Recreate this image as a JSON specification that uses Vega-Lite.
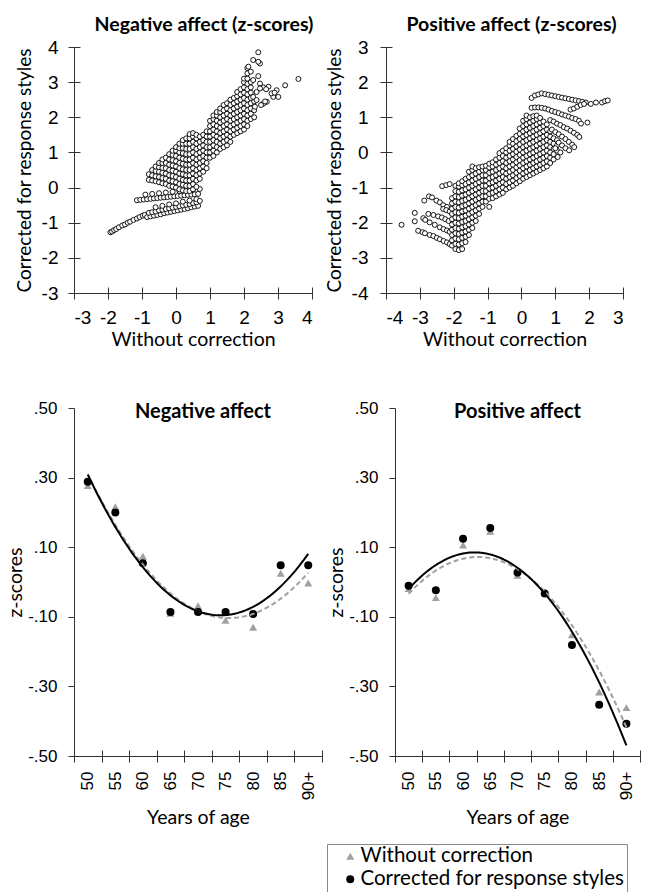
{
"$schema": "https://vega.github.io/schema/vega-lite/v6.json",
"background": "white",
"padding": {"left": 5, "top": 14, "right": 0, "bottom": 0},
"spacing": 50,
"config": {
  "view": {"stroke": null},
  "font": "Lato",
  "axis": {"grid": false, "labelFont": "Liberation Sans", "labelColor": "#000", "titleFont": "Lato", "titleFontWeight": "normal", "titleColor": "#000", "domainColor": "#333", "tickColor": "#333", "domainWidth": 1, "tickWidth": 1},
  "title": {"font": "Lato", "fontWeight": "bold", "color": "#000"}
},
"datasets": {
"na": [
{"x":-1.93,"y":-1.27},{"x":-1.88,"y":-1.25},{"x":-1.82,"y":-1.21},{"x":-1.76,"y":-1.18},{"x":-1.68,"y":-1.13},{"x":-1.58,"y":-1.08},{"x":-1.5,"y":-1.05},{"x":-1.42,"y":-1.0},{"x":-1.35,"y":-0.97},{"x":-1.25,"y":-0.92},{"x":-1.15,"y":-0.88},{"x":-1.07,"y":-0.84},{"x":-0.98,"y":-0.8},{"x":-0.92,"y":-0.78},
{"x":-0.85,"y":-0.84},{"x":-0.75,"y":-0.82},{"x":-0.65,"y":-0.8},{"x":-0.55,"y":-0.78},{"x":-0.45,"y":-0.76},{"x":-0.35,"y":-0.73},{"x":-0.25,"y":-0.71},{"x":-0.15,"y":-0.69},{"x":-0.05,"y":-0.67},{"x":0.05,"y":-0.65},{"x":0.15,"y":-0.63},{"x":0.25,"y":-0.61},{"x":0.35,"y":-0.59},{"x":0.45,"y":-0.56},{"x":0.55,"y":-0.54},{"x":0.65,"y":-0.52},
{"x":-0.8,"y":-0.72},{"x":-0.7,"y":-0.7},{"x":-0.6,"y":-0.68},{"x":-0.5,"y":-0.65},{"x":-0.4,"y":-0.63},{"x":-0.3,"y":-0.61},{"x":-0.2,"y":-0.59},{"x":-0.1,"y":-0.57},{"x":0,"y":-0.55},{"x":0.1,"y":-0.53},{"x":0.2,"y":-0.51},{"x":0.3,"y":-0.49},{"x":0.4,"y":-0.47},{"x":0.5,"y":-0.44},{"x":0.6,"y":-0.42},
{"x":-0.6,"y":-0.56},{"x":-0.4,"y":-0.52},{"x":-0.2,"y":-0.48},{"x":0,"y":-0.45},{"x":0.2,"y":-0.4},{"x":0.4,"y":-0.37},{"x":0.6,"y":-0.33},{"x":0.7,"y":-0.38},
{"x":-1.15,"y":-0.36},{"x":-1.05,"y":-0.35},{"x":-0.95,"y":-0.34},{"x":-0.85,"y":-0.33},{"x":-0.75,"y":-0.32},{"x":-0.65,"y":-0.31},{"x":-0.55,"y":-0.3},{"x":-0.45,"y":-0.29},{"x":-0.35,"y":-0.28},{"x":-0.25,"y":-0.27},{"x":-0.15,"y":-0.26},{"x":-0.05,"y":-0.25},{"x":0.05,"y":-0.24},{"x":0.15,"y":-0.23},{"x":0.25,"y":-0.22},{"x":0.35,"y":-0.21},{"x":0.45,"y":-0.2},{"x":0.55,"y":-0.19},{"x":0.65,"y":-0.18},
{"x":-0.9,"y":-0.2},{"x":-0.7,"y":-0.18},{"x":-0.5,"y":-0.16},{"x":-0.3,"y":-0.14},{"x":-0.1,"y":-0.12},{"x":0.1,"y":-0.1},{"x":0.3,"y":-0.08},{"x":0.5,"y":-0.06},{"x":0.7,"y":-0.04},
{"x":-0.8,"y":0.22},{"x":-0.8,"y":0.38},
{"x":-0.7,"y":0.2},{"x":-0.7,"y":0.35},{"x":-0.7,"y":0.5},
{"x":-0.6,"y":0.18},{"x":-0.6,"y":0.32},{"x":-0.6,"y":0.47},{"x":-0.6,"y":0.6},
{"x":-0.5,"y":0.15},{"x":-0.5,"y":0.3},{"x":-0.5,"y":0.45},{"x":-0.5,"y":0.58},{"x":-0.5,"y":0.7},
{"x":-0.4,"y":0.12},{"x":-0.4,"y":0.27},{"x":-0.4,"y":0.42},{"x":-0.4,"y":0.56},{"x":-0.4,"y":0.7},{"x":-0.4,"y":0.8},
{"x":-0.3,"y":0.1},{"x":-0.3,"y":0.25},{"x":-0.3,"y":0.4},{"x":-0.3,"y":0.55},{"x":-0.3,"y":0.7},{"x":-0.3,"y":0.85},
{"x":-0.2,"y":0.05},{"x":-0.2,"y":0.2},{"x":-0.2,"y":0.35},{"x":-0.2,"y":0.5},{"x":-0.2,"y":0.65},{"x":-0.2,"y":0.8},{"x":-0.2,"y":0.95},
{"x":-0.1,"y":0.03},{"x":-0.1,"y":0.18},{"x":-0.1,"y":0.33},{"x":-0.1,"y":0.48},{"x":-0.1,"y":0.63},{"x":-0.1,"y":0.78},{"x":-0.1,"y":0.93},{"x":-0.1,"y":1.05},
{"x":0,"y":0.0},{"x":0,"y":0.15},{"x":0,"y":0.3},{"x":0,"y":0.45},{"x":0,"y":0.6},{"x":0,"y":0.75},{"x":0,"y":0.9},{"x":0,"y":1.05},{"x":0,"y":1.15},
{"x":0.1,"y":-0.05},{"x":0.1,"y":0.1},{"x":0.1,"y":0.25},{"x":0.1,"y":0.4},{"x":0.1,"y":0.55},{"x":0.1,"y":0.7},{"x":0.1,"y":0.85},{"x":0.1,"y":1.0},{"x":0.1,"y":1.12},{"x":0.1,"y":1.25},
{"x":0.2,"y":-0.08},{"x":0.2,"y":0.08},{"x":0.2,"y":0.22},{"x":0.2,"y":0.38},{"x":0.2,"y":0.52},{"x":0.2,"y":0.68},{"x":0.2,"y":0.82},{"x":0.2,"y":0.98},{"x":0.2,"y":1.12},{"x":0.2,"y":1.25},{"x":0.2,"y":1.35},
{"x":0.3,"y":-0.1},{"x":0.3,"y":0.05},{"x":0.3,"y":0.2},{"x":0.3,"y":0.35},{"x":0.3,"y":0.5},{"x":0.3,"y":0.65},{"x":0.3,"y":0.8},{"x":0.3,"y":0.95},{"x":0.3,"y":1.1},{"x":0.3,"y":1.25},{"x":0.3,"y":1.4},
{"x":0.4,"y":-0.1},{"x":0.4,"y":0.05},{"x":0.4,"y":0.2},{"x":0.4,"y":0.35},{"x":0.4,"y":0.5},{"x":0.4,"y":0.65},{"x":0.4,"y":0.8},{"x":0.4,"y":0.95},{"x":0.4,"y":1.1},{"x":0.4,"y":1.25},{"x":0.4,"y":1.4},{"x":0.4,"y":1.52},
{"x":0.5,"y":-0.05},{"x":0.5,"y":0.1},{"x":0.5,"y":0.25},{"x":0.5,"y":0.4},{"x":0.5,"y":0.55},{"x":0.5,"y":0.7},{"x":0.5,"y":0.85},{"x":0.5,"y":1.0},{"x":0.5,"y":1.15},{"x":0.5,"y":1.3},{"x":0.5,"y":1.45},{"x":0.5,"y":1.55},
{"x":0.6,"y":0.02},{"x":0.6,"y":0.2},{"x":0.6,"y":0.35},{"x":0.6,"y":0.5},{"x":0.6,"y":0.65},{"x":0.6,"y":0.8},{"x":0.6,"y":0.95},{"x":0.6,"y":1.1},{"x":0.6,"y":1.25},{"x":0.6,"y":1.4},{"x":0.6,"y":1.5},
{"x":0.7,"y":0.25},{"x":0.7,"y":0.4},{"x":0.7,"y":0.55},{"x":0.7,"y":0.7},{"x":0.7,"y":0.85},{"x":0.7,"y":1.0},{"x":0.7,"y":1.15},{"x":0.7,"y":1.3},{"x":0.7,"y":1.45},
{"x":0.8,"y":0.45},{"x":0.8,"y":0.6},{"x":0.8,"y":0.75},{"x":0.8,"y":0.9},{"x":0.8,"y":1.05},{"x":0.8,"y":1.2},{"x":0.8,"y":1.35},{"x":0.8,"y":1.5},
{"x":0.9,"y":0.55},{"x":0.9,"y":0.7},{"x":0.9,"y":0.85},{"x":0.9,"y":1.0},{"x":0.9,"y":1.15},{"x":0.9,"y":1.3},{"x":0.9,"y":1.45},{"x":0.9,"y":1.6},
{"x":1.0,"y":0.85},{"x":1.0,"y":1.0},{"x":1.0,"y":1.15},{"x":1.0,"y":1.3},{"x":1.0,"y":1.45},{"x":1.0,"y":1.6},{"x":1.0,"y":1.75},{"x":1.0,"y":1.9},
{"x":1.1,"y":0.9},{"x":1.1,"y":1.05},{"x":1.1,"y":1.2},{"x":1.1,"y":1.35},{"x":1.1,"y":1.5},{"x":1.1,"y":1.65},{"x":1.1,"y":1.8},{"x":1.1,"y":1.95},{"x":1.1,"y":2.05},
{"x":1.2,"y":1.0},{"x":1.2,"y":1.15},{"x":1.2,"y":1.3},{"x":1.2,"y":1.45},{"x":1.2,"y":1.6},{"x":1.2,"y":1.75},{"x":1.2,"y":1.9},{"x":1.2,"y":2.05},{"x":1.2,"y":2.15},
{"x":1.3,"y":1.1},{"x":1.3,"y":1.25},{"x":1.3,"y":1.4},{"x":1.3,"y":1.55},{"x":1.3,"y":1.7},{"x":1.3,"y":1.85},{"x":1.3,"y":2.0},{"x":1.3,"y":2.15},{"x":1.3,"y":2.25},
{"x":1.4,"y":1.15},{"x":1.4,"y":1.3},{"x":1.4,"y":1.45},{"x":1.4,"y":1.6},{"x":1.4,"y":1.75},{"x":1.4,"y":1.9},{"x":1.4,"y":2.05},{"x":1.4,"y":2.2},{"x":1.4,"y":2.35},
{"x":1.5,"y":1.2},{"x":1.5,"y":1.35},{"x":1.5,"y":1.5},{"x":1.5,"y":1.65},{"x":1.5,"y":1.8},{"x":1.5,"y":1.95},{"x":1.5,"y":2.1},{"x":1.5,"y":2.25},{"x":1.5,"y":2.4},
{"x":1.6,"y":1.3},{"x":1.6,"y":1.45},{"x":1.6,"y":1.6},{"x":1.6,"y":1.75},{"x":1.6,"y":1.9},{"x":1.6,"y":2.05},{"x":1.6,"y":2.2},{"x":1.6,"y":2.35},{"x":1.6,"y":2.5},
{"x":1.7,"y":1.5},{"x":1.7,"y":1.65},{"x":1.7,"y":1.8},{"x":1.7,"y":1.95},{"x":1.7,"y":2.1},{"x":1.7,"y":2.25},{"x":1.7,"y":2.4},{"x":1.7,"y":2.55},
{"x":1.8,"y":1.55},{"x":1.8,"y":1.7},{"x":1.8,"y":1.85},{"x":1.8,"y":2.0},{"x":1.8,"y":2.15},{"x":1.8,"y":2.3},{"x":1.8,"y":2.45},{"x":1.8,"y":2.6},{"x":1.8,"y":2.72},
{"x":1.9,"y":1.6},{"x":1.9,"y":1.75},{"x":1.9,"y":1.9},{"x":1.9,"y":2.05},{"x":1.9,"y":2.2},{"x":1.9,"y":2.35},{"x":1.9,"y":2.5},{"x":1.9,"y":2.65},{"x":1.9,"y":2.8},
{"x":2.0,"y":1.65},{"x":2.0,"y":1.8},{"x":2.0,"y":1.95},{"x":2.0,"y":2.1},{"x":2.0,"y":2.25},{"x":2.0,"y":2.4},{"x":2.0,"y":2.55},{"x":2.0,"y":2.7},{"x":2.0,"y":2.85},{"x":2.0,"y":3.0},{"x":2.0,"y":3.1},
{"x":2.1,"y":1.75},{"x":2.1,"y":1.9},{"x":2.1,"y":2.05},{"x":2.1,"y":2.2},{"x":2.1,"y":2.35},{"x":2.1,"y":2.5},{"x":2.1,"y":2.65},{"x":2.1,"y":2.8},{"x":2.1,"y":2.95},{"x":2.1,"y":3.1},{"x":2.1,"y":3.25},{"x":2.1,"y":3.4},
{"x":2.2,"y":1.95},{"x":2.2,"y":2.1},{"x":2.2,"y":2.25},{"x":2.2,"y":2.4},{"x":2.2,"y":2.55},{"x":2.2,"y":2.7},{"x":2.2,"y":2.85},{"x":2.2,"y":3.0},{"x":2.2,"y":3.3},
{"x":2.3,"y":2.0},{"x":2.3,"y":2.2},{"x":2.3,"y":2.45},
{"x":2.32,"y":2.3},{"x":2.57,"y":2.39},{"x":2.67,"y":2.44},{"x":2.27,"y":2.58},{"x":2.37,"y":2.72},{"x":2.57,"y":2.85},{"x":2.72,"y":2.87},{"x":2.47,"y":2.96},{"x":2.86,"y":2.58},{"x":2.81,"y":2.68},{"x":2.96,"y":2.77},{"x":3.01,"y":2.58},{"x":3.21,"y":2.91},{"x":3.6,"y":3.09},{"x":2.42,"y":3.17},{"x":2.27,"y":3.06},{"x":2.47,"y":2.82},{"x":2.37,"y":2.49},{"x":2.62,"y":2.45},{"x":2.42,"y":3.85},{"x":2.27,"y":3.63},{"x":2.47,"y":3.53},{"x":2.42,"y":3.58},{"x":2.13,"y":3.44},{"x":2.5,"y":2.35},{"x":2.9,"y":2.7},{"x":2.65,"y":2.8}
],
"pa": [
{"x":-3.54,"y":-2.06},
{"x":-2.87,"y":-1.37},{"x":-2.73,"y":-1.25},{"x":-2.64,"y":-1.28},{"x":-2.51,"y":-1.37},{"x":-2.41,"y":-1.42},{"x":-2.31,"y":-1.5},{"x":-2.2,"y":-1.55},
{"x":-2.34,"y":-0.96},{"x":-2.22,"y":-0.93},{"x":-2.12,"y":-0.9},
{"x":-3.15,"y":-1.72},{"x":-2.75,"y":-1.75},{"x":-2.6,"y":-1.78},{"x":-2.46,"y":-1.82},{"x":-2.35,"y":-1.85},{"x":-2.25,"y":-1.9},{"x":-2.15,"y":-1.95},
{"x":-2.31,"y":-1.61},{"x":-2.22,"y":-1.64},{"x":-2.12,"y":-1.68},
{"x":-3.15,"y":-1.96},{"x":-2.9,"y":-1.87},{"x":-2.84,"y":-1.92},{"x":-2.71,"y":-1.99},{"x":-2.56,"y":-2.06},{"x":-2.41,"y":-2.13},{"x":-2.3,"y":-2.18},{"x":-2.2,"y":-2.22},{"x":-2.12,"y":-2.26},
{"x":-3.05,"y":-2.23},{"x":-2.92,"y":-2.27},{"x":-2.85,"y":-2.3},{"x":-2.71,"y":-2.35},{"x":-2.6,"y":-2.38},{"x":-2.5,"y":-2.43},{"x":-2.41,"y":-2.47},{"x":-2.3,"y":-2.52},{"x":-2.2,"y":-2.56},{"x":-2.12,"y":-2.61},
{"x":-2.05,"y":-2.65},{"x":-2.05,"y":-2.5},{"x":-2.05,"y":-2.35},{"x":-2.05,"y":-2.2},{"x":-2.05,"y":-2.05},{"x":-2.05,"y":-1.9},{"x":-2.05,"y":-1.75},{"x":-2.05,"y":-1.6},{"x":-2.05,"y":-1.45},{"x":-2.05,"y":-1.3},
{"x":-1.95,"y":-2.75},{"x":-1.95,"y":-2.6},{"x":-1.95,"y":-2.45},{"x":-1.95,"y":-2.3},{"x":-1.95,"y":-2.15},{"x":-1.95,"y":-2.0},{"x":-1.95,"y":-1.85},{"x":-1.95,"y":-1.7},{"x":-1.95,"y":-1.55},{"x":-1.95,"y":-1.4},{"x":-1.95,"y":-1.25},{"x":-1.95,"y":-1.1},{"x":-1.95,"y":-0.95},
{"x":-1.85,"y":-2.78},{"x":-1.85,"y":-2.62},{"x":-1.85,"y":-2.47},{"x":-1.85,"y":-2.32},{"x":-1.85,"y":-2.17},{"x":-1.85,"y":-2.02},{"x":-1.85,"y":-1.87},{"x":-1.85,"y":-1.72},{"x":-1.85,"y":-1.57},{"x":-1.85,"y":-1.42},{"x":-1.85,"y":-1.27},{"x":-1.85,"y":-1.12},{"x":-1.85,"y":-0.97},{"x":-1.85,"y":-0.88},
{"x":-1.75,"y":-2.75},{"x":-1.75,"y":-2.58},{"x":-1.75,"y":-2.43},{"x":-1.75,"y":-2.28},{"x":-1.75,"y":-2.13},{"x":-1.75,"y":-1.98},{"x":-1.75,"y":-1.83},{"x":-1.75,"y":-1.68},{"x":-1.75,"y":-1.53},{"x":-1.75,"y":-1.38},{"x":-1.75,"y":-1.23},{"x":-1.75,"y":-1.08},{"x":-1.75,"y":-0.93},{"x":-1.75,"y":-0.82},
{"x":-1.65,"y":-2.55},{"x":-1.65,"y":-2.4},{"x":-1.65,"y":-2.25},{"x":-1.65,"y":-2.1},{"x":-1.65,"y":-1.95},{"x":-1.65,"y":-1.8},{"x":-1.65,"y":-1.65},{"x":-1.65,"y":-1.5},{"x":-1.65,"y":-1.35},{"x":-1.65,"y":-1.2},{"x":-1.65,"y":-1.05},{"x":-1.65,"y":-0.9},{"x":-1.65,"y":-0.75},
{"x":-1.55,"y":-2.35},{"x":-1.55,"y":-2.2},{"x":-1.55,"y":-2.05},{"x":-1.55,"y":-1.9},{"x":-1.55,"y":-1.75},{"x":-1.55,"y":-1.6},{"x":-1.55,"y":-1.45},{"x":-1.55,"y":-1.3},{"x":-1.55,"y":-1.15},{"x":-1.55,"y":-1.0},{"x":-1.55,"y":-0.85},{"x":-1.55,"y":-0.7},{"x":-1.55,"y":-0.55},
{"x":-1.45,"y":-2.15},{"x":-1.45,"y":-2.0},{"x":-1.45,"y":-1.85},{"x":-1.45,"y":-1.7},{"x":-1.45,"y":-1.55},{"x":-1.45,"y":-1.4},{"x":-1.45,"y":-1.25},{"x":-1.45,"y":-1.1},{"x":-1.45,"y":-0.95},{"x":-1.45,"y":-0.8},{"x":-1.45,"y":-0.65},{"x":-1.45,"y":-0.5},{"x":-1.45,"y":-0.4},
{"x":-1.35,"y":-1.95},{"x":-1.35,"y":-1.8},{"x":-1.35,"y":-1.65},{"x":-1.35,"y":-1.5},{"x":-1.35,"y":-1.35},{"x":-1.35,"y":-1.2},{"x":-1.35,"y":-1.05},{"x":-1.35,"y":-0.9},{"x":-1.35,"y":-0.75},{"x":-1.35,"y":-0.6},{"x":-1.35,"y":-0.45},
{"x":-1.25,"y":-1.75},{"x":-1.25,"y":-1.6},{"x":-1.25,"y":-1.45},{"x":-1.25,"y":-1.3},{"x":-1.25,"y":-1.15},{"x":-1.25,"y":-1.0},{"x":-1.25,"y":-0.85},{"x":-1.25,"y":-0.7},{"x":-1.25,"y":-0.55},{"x":-1.25,"y":-0.42},
{"x":-1.15,"y":-1.55},{"x":-1.15,"y":-1.4},{"x":-1.15,"y":-1.25},{"x":-1.15,"y":-1.1},{"x":-1.15,"y":-0.95},{"x":-1.15,"y":-0.8},{"x":-1.15,"y":-0.65},{"x":-1.15,"y":-0.5},{"x":-1.15,"y":-0.4},
{"x":-1.05,"y":-1.4},{"x":-1.05,"y":-1.25},{"x":-1.05,"y":-1.1},{"x":-1.05,"y":-0.95},{"x":-1.05,"y":-0.8},{"x":-1.05,"y":-0.65},{"x":-1.05,"y":-0.5},{"x":-1.05,"y":-0.38},
{"x":-0.95,"y":-1.55},{"x":-0.95,"y":-1.32},{"x":-0.95,"y":-1.18},{"x":-0.95,"y":-1.03},{"x":-0.95,"y":-0.88},{"x":-0.95,"y":-0.73},{"x":-0.95,"y":-0.58},{"x":-0.95,"y":-0.43},{"x":-0.95,"y":-0.32},
{"x":-0.85,"y":-1.3},{"x":-0.85,"y":-1.15},{"x":-0.85,"y":-1.0},{"x":-0.85,"y":-0.85},{"x":-0.85,"y":-0.7},{"x":-0.85,"y":-0.55},{"x":-0.85,"y":-0.4},{"x":-0.85,"y":-0.28},
{"x":-0.75,"y":-1.25},{"x":-0.75,"y":-1.1},{"x":-0.75,"y":-0.95},{"x":-0.75,"y":-0.8},{"x":-0.75,"y":-0.65},{"x":-0.75,"y":-0.5},{"x":-0.75,"y":-0.35},{"x":-0.75,"y":-0.2},
{"x":-0.65,"y":-1.2},{"x":-0.65,"y":-1.05},{"x":-0.65,"y":-0.9},{"x":-0.65,"y":-0.75},{"x":-0.65,"y":-0.6},{"x":-0.65,"y":-0.45},{"x":-0.65,"y":-0.3},{"x":-0.65,"y":-0.15},{"x":-0.65,"y":-0.02},
{"x":-0.55,"y":-1.15},{"x":-0.55,"y":-1.0},{"x":-0.55,"y":-0.85},{"x":-0.55,"y":-0.7},{"x":-0.55,"y":-0.55},{"x":-0.55,"y":-0.4},{"x":-0.55,"y":-0.25},{"x":-0.55,"y":-0.1},{"x":-0.55,"y":0.05},
{"x":-0.45,"y":-1.05},{"x":-0.45,"y":-0.9},{"x":-0.45,"y":-0.75},{"x":-0.45,"y":-0.6},{"x":-0.45,"y":-0.45},{"x":-0.45,"y":-0.3},{"x":-0.45,"y":-0.15},{"x":-0.45,"y":0.0},{"x":-0.45,"y":0.12},
{"x":-0.35,"y":-1.0},{"x":-0.35,"y":-0.85},{"x":-0.35,"y":-0.7},{"x":-0.35,"y":-0.55},{"x":-0.35,"y":-0.4},{"x":-0.35,"y":-0.25},{"x":-0.35,"y":-0.1},{"x":-0.35,"y":0.05},{"x":-0.35,"y":0.2},{"x":-0.35,"y":0.3},
{"x":-0.25,"y":-0.95},{"x":-0.25,"y":-0.8},{"x":-0.25,"y":-0.65},{"x":-0.25,"y":-0.5},{"x":-0.25,"y":-0.35},{"x":-0.25,"y":-0.2},{"x":-0.25,"y":-0.05},{"x":-0.25,"y":0.1},{"x":-0.25,"y":0.25},{"x":-0.25,"y":0.38},
{"x":-0.15,"y":-0.88},{"x":-0.15,"y":-0.73},{"x":-0.15,"y":-0.58},{"x":-0.15,"y":-0.43},{"x":-0.15,"y":-0.28},{"x":-0.15,"y":-0.13},{"x":-0.15,"y":0.02},{"x":-0.15,"y":0.17},{"x":-0.15,"y":0.32},{"x":-0.15,"y":0.47},
{"x":-0.05,"y":-0.82},{"x":-0.05,"y":-0.67},{"x":-0.05,"y":-0.52},{"x":-0.05,"y":-0.37},{"x":-0.05,"y":-0.22},{"x":-0.05,"y":-0.07},{"x":-0.05,"y":0.08},{"x":-0.05,"y":0.23},{"x":-0.05,"y":0.38},{"x":-0.05,"y":0.53},{"x":-0.05,"y":0.68},
{"x":0.05,"y":-0.75},{"x":0.05,"y":-0.6},{"x":0.05,"y":-0.45},{"x":0.05,"y":-0.3},{"x":0.05,"y":-0.15},{"x":0.05,"y":0.0},{"x":0.05,"y":0.15},{"x":0.05,"y":0.3},{"x":0.05,"y":0.45},{"x":0.05,"y":0.6},{"x":0.05,"y":0.75},{"x":0.05,"y":0.9},
{"x":0.15,"y":-0.7},{"x":0.15,"y":-0.55},{"x":0.15,"y":-0.4},{"x":0.15,"y":-0.25},{"x":0.15,"y":-0.1},{"x":0.15,"y":0.05},{"x":0.15,"y":0.2},{"x":0.15,"y":0.35},{"x":0.15,"y":0.5},{"x":0.15,"y":0.65},{"x":0.15,"y":0.8},{"x":0.15,"y":0.95},{"x":0.15,"y":1.05},
{"x":0.25,"y":-0.65},{"x":0.25,"y":-0.5},{"x":0.25,"y":-0.35},{"x":0.25,"y":-0.2},{"x":0.25,"y":-0.05},{"x":0.25,"y":0.1},{"x":0.25,"y":0.25},{"x":0.25,"y":0.4},{"x":0.25,"y":0.55},{"x":0.25,"y":0.7},{"x":0.25,"y":0.85},{"x":0.25,"y":1.0},
{"x":0.35,"y":-0.6},{"x":0.35,"y":-0.45},{"x":0.35,"y":-0.3},{"x":0.35,"y":-0.15},{"x":0.35,"y":0.0},{"x":0.35,"y":0.15},{"x":0.35,"y":0.3},{"x":0.35,"y":0.45},{"x":0.35,"y":0.6},{"x":0.35,"y":0.75},{"x":0.35,"y":0.9},{"x":0.35,"y":1.03},
{"x":0.45,"y":-0.55},{"x":0.45,"y":-0.4},{"x":0.45,"y":-0.25},{"x":0.45,"y":-0.1},{"x":0.45,"y":0.05},{"x":0.45,"y":0.2},{"x":0.45,"y":0.35},{"x":0.45,"y":0.5},{"x":0.45,"y":0.65},{"x":0.45,"y":0.8},{"x":0.45,"y":0.95},{"x":0.45,"y":1.05},
{"x":0.55,"y":-0.5},{"x":0.55,"y":-0.35},{"x":0.55,"y":-0.2},{"x":0.55,"y":-0.05},{"x":0.55,"y":0.1},{"x":0.55,"y":0.25},{"x":0.55,"y":0.4},{"x":0.55,"y":0.55},{"x":0.55,"y":0.7},{"x":0.55,"y":0.85},{"x":0.55,"y":0.98},
{"x":0.65,"y":-0.45},{"x":0.65,"y":-0.3},{"x":0.65,"y":-0.15},{"x":0.65,"y":0.0},{"x":0.65,"y":0.15},{"x":0.65,"y":0.3},{"x":0.65,"y":0.45},{"x":0.65,"y":0.6},{"x":0.65,"y":0.75},{"x":0.65,"y":0.88},
{"x":0.75,"y":-0.4},{"x":0.75,"y":-0.25},{"x":0.75,"y":-0.1},{"x":0.75,"y":0.05},{"x":0.75,"y":0.2},{"x":0.75,"y":0.35},{"x":0.75,"y":0.5},{"x":0.75,"y":0.65},{"x":0.75,"y":0.8},
{"x":0.85,"y":-0.3},{"x":0.85,"y":-0.15},{"x":0.85,"y":0.0},{"x":0.85,"y":0.15},{"x":0.85,"y":0.3},{"x":0.85,"y":0.45},{"x":0.85,"y":0.6},
{"x":0.95,"y":-0.2},{"x":0.95,"y":-0.05},{"x":0.95,"y":0.1},{"x":0.95,"y":0.25},{"x":0.95,"y":0.4},
{"x":1.05,"y":0.05},{"x":1.05,"y":0.2},{"x":1.05,"y":0.35},
{"x":0.3,"y":1.55},{"x":0.4,"y":1.62},{"x":0.5,"y":1.65},{"x":0.6,"y":1.68},{"x":0.7,"y":1.66},{"x":0.8,"y":1.64},{"x":0.9,"y":1.62},{"x":1.0,"y":1.6},{"x":1.1,"y":1.58},{"x":1.2,"y":1.56},{"x":1.3,"y":1.54},{"x":1.4,"y":1.52},{"x":1.5,"y":1.5},{"x":1.6,"y":1.48},{"x":1.7,"y":1.46},{"x":1.8,"y":1.44},{"x":1.9,"y":1.42},{"x":2.05,"y":1.38},{"x":2.2,"y":1.42},{"x":2.38,"y":1.42},{"x":2.47,"y":1.46},{"x":2.55,"y":1.48},
{"x":0.3,"y":1.27},{"x":0.4,"y":1.28},{"x":0.5,"y":1.28},{"x":0.6,"y":1.27},{"x":0.7,"y":1.25},{"x":0.8,"y":1.22},{"x":0.9,"y":1.18},{"x":1.0,"y":1.15},{"x":1.1,"y":1.12},{"x":1.2,"y":1.08},{"x":1.3,"y":1.05},{"x":1.4,"y":1.02},{"x":1.5,"y":0.98},{"x":1.6,"y":0.95},{"x":1.7,"y":0.9},{"x":1.76,"y":0.82},{"x":1.95,"y":0.85},
{"x":1.45,"y":1.22},{"x":1.55,"y":1.25},{"x":1.65,"y":1.3},{"x":1.75,"y":1.35},{"x":1.85,"y":1.38},
{"x":0.85,"y":0.92},{"x":0.95,"y":0.88},{"x":1.05,"y":0.82},{"x":1.15,"y":0.78},{"x":1.25,"y":0.72},{"x":1.35,"y":0.68},{"x":1.45,"y":0.62},{"x":1.55,"y":0.56},{"x":1.65,"y":0.5},{"x":1.71,"y":0.44},
{"x":0.9,"y":0.65},{"x":1.0,"y":0.58},{"x":1.1,"y":0.52},{"x":1.2,"y":0.45},{"x":1.3,"y":0.38},{"x":1.4,"y":0.3},{"x":1.5,"y":0.22},{"x":1.56,"y":0.15},
{"x":1.0,"y":0.12},{"x":1.1,"y":0.28},{"x":1.2,"y":0.2},{"x":1.3,"y":0.12},{"x":1.41,"y":0.06},{"x":1.15,"y":0.0},{"x":1.07,"y":-0.13}
],
"nl": [
{"age":50,"z":0.277,"series":"Without correction"},{"age":55,"z":0.216,"series":"Without correction"},{"age":60,"z":0.074,"series":"Without correction"},{"age":65,"z":-0.09,"series":"Without correction"},{"age":70,"z":-0.068,"series":"Without correction"},{"age":75,"z":-0.11,"series":"Without correction"},{"age":80,"z":-0.13,"series":"Without correction"},{"age":85,"z":0.025,"series":"Without correction"},{"age":90,"z":-0.003,"series":"Without correction"},
{"age":50,"z":0.288,"series":"Corrected for response styles"},{"age":55,"z":0.2,"series":"Corrected for response styles"},{"age":60,"z":0.054,"series":"Corrected for response styles"},{"age":65,"z":-0.086,"series":"Corrected for response styles"},{"age":70,"z":-0.086,"series":"Corrected for response styles"},{"age":75,"z":-0.086,"series":"Corrected for response styles"},{"age":80,"z":-0.092,"series":"Corrected for response styles"},{"age":85,"z":0.048,"series":"Corrected for response styles"},{"age":90,"z":0.048,"series":"Corrected for response styles"}
],
"pl": [
{"age":50,"z":-0.019,"series":"Without correction"},{"age":55,"z":-0.045,"series":"Without correction"},{"age":60,"z":0.106,"series":"Without correction"},{"age":65,"z":0.146,"series":"Without correction"},{"age":70,"z":0.019,"series":"Without correction"},{"age":75,"z":-0.03,"series":"Without correction"},{"age":80,"z":-0.152,"series":"Without correction"},{"age":85,"z":-0.316,"series":"Without correction"},{"age":90,"z":-0.361,"series":"Without correction"},
{"age":50,"z":-0.011,"series":"Corrected for response styles"},{"age":55,"z":-0.024,"series":"Corrected for response styles"},{"age":60,"z":0.124,"series":"Corrected for response styles"},{"age":65,"z":0.155,"series":"Corrected for response styles"},{"age":70,"z":0.027,"series":"Corrected for response styles"},{"age":75,"z":-0.033,"series":"Corrected for response styles"},{"age":80,"z":-0.181,"series":"Corrected for response styles"},{"age":85,"z":-0.353,"series":"Corrected for response styles"},{"age":90,"z":-0.407,"series":"Corrected for response styles"}
]
},
"vconcat": [
{
"hconcat": [
{
  "width": 238, "height": 246,
  "data": {"name": "na"},
  "title": {"text": "Negative affect (z-scores)", "frame": "group", "anchor": "middle", "baseline": "alphabetic", "offset": -12, "dx": 11, "fontSize": 19.5},
  "resolve": {"axis": {"x": "independent", "y": "independent"}},
  "layer": [
    {"mark": {"type": "point", "shape": "circle", "size": 25, "filled": true, "fill": "white", "stroke": "black", "strokeWidth": 0.9, "opacity": 1},
     "encoding": {
       "x": {"field": "x", "type": "quantitative", "scale": {"domain": [-3, 4], "nice": false, "zero": false},
             "axis": {"orient": "bottom", "values": [-3,-2,-1,0,1,2,3,4], "labelExpr": "'' + datum.value", "ticks": false, "labelPadding": 15, "labelFontSize": 19, "title": "Without correction", "titleFontSize": 19.5, "titlePadding": 3}},
       "y": {"field": "y", "type": "quantitative", "scale": {"domain": [-3, 4], "nice": false, "zero": false},
             "axis": {"orient": "left", "values": [-3,-2,-1,0,1,2,3,4], "labelExpr": "'' + datum.value", "ticks": false, "labelPadding": 16, "labelFontSize": 19, "title": "Corrected for response styles", "titleFontSize": 19, "titlePadding": 7}}
     }},
    {"mark": {"type": "point", "opacity": 0},
     "encoding": {
       "x": {"field": "x", "type": "quantitative", "axis": {"orient": "bottom", "values": [-3,-2,-1,0,1,2,3,4], "tickSize": 12, "offset": -6, "labels": false, "domain": false, "title": null}},
       "y": {"field": "y", "type": "quantitative", "axis": {"orient": "left", "values": [-3,-2,-1,0,1,2,3,4], "tickSize": 12, "offset": -6, "labels": false, "domain": false, "title": null}}
     }}
  ]
},
{
  "width": 237, "height": 246,
  "data": {"name": "pa"},
  "title": {"text": "Positive affect (z-scores)", "frame": "group", "anchor": "middle", "baseline": "alphabetic", "offset": -12, "dx": 7, "fontSize": 19.5},
  "resolve": {"axis": {"x": "independent", "y": "independent"}},
  "layer": [
    {"mark": {"type": "point", "shape": "circle", "size": 25, "filled": true, "fill": "white", "stroke": "black", "strokeWidth": 0.9, "opacity": 1},
     "encoding": {
       "x": {"field": "x", "type": "quantitative", "scale": {"domain": [-4, 3], "nice": false, "zero": false},
             "axis": {"orient": "bottom", "values": [-4,-3,-2,-1,0,1,2,3], "labelExpr": "'' + datum.value", "ticks": false, "labelPadding": 15, "labelFontSize": 19, "title": "Without correction", "titleFontSize": 19.5, "titlePadding": 3}},
       "y": {"field": "y", "type": "quantitative", "scale": {"domain": [-4, 3], "nice": false, "zero": false},
             "axis": {"orient": "left", "values": [-4,-3,-2,-1,0,1,2,3], "labelExpr": "'' + datum.value", "ticks": false, "labelPadding": 18, "labelFontSize": 19, "title": "Corrected for response styles", "titleFontSize": 19, "titlePadding": 7}}
     }},
    {"mark": {"type": "point", "opacity": 0},
     "encoding": {
       "x": {"field": "x", "type": "quantitative", "axis": {"orient": "bottom", "values": [-4,-3,-2,-1,0,1,2,3], "tickSize": 12, "offset": -6, "labels": false, "domain": false, "title": null}},
       "y": {"field": "y", "type": "quantitative", "axis": {"orient": "left", "values": [-4,-3,-2,-1,0,1,2,3], "tickSize": 12, "offset": -6, "labels": false, "domain": false, "title": null}}
     }}
  ]
}
],
"bounds": "flush",
"spacing": 74
},
{
"hconcat": [
{
  "width": 248, "height": 348,
  "data": {"name": "nl"},
  "title": {"text": "Negative affect", "frame": "group", "anchor": "middle", "baseline": "alphabetic", "offset": -39, "dx": 5, "fontSize": 20},
  "resolve": {"axis": {"x": "independent", "y": "independent"}},
  "layer": [
    {"mark": {"type": "point", "filled": true, "size": 64, "opacity": 1},
     "encoding": {
       "x": {"field": "age", "type": "quantitative", "scale": {"domain": [47.5, 92.5], "nice": false, "zero": false},
             "axis": {"orient": "bottom", "values": [50,55,60,65,70,75,80,85,90], "labelExpr": "datum.value == 90 ? '90+' : '' + datum.value", "ticks": false, "labelAngle": 270, "labelPadding": 15, "labelFontSize": 17, "title": "Years of age", "titleFontSize": 19.5, "titlePadding": 9}},
       "y": {"field": "z", "type": "quantitative", "scale": {"domain": [-0.5, 0.5], "nice": false, "zero": false},
             "axis": {"orient": "left", "values": [-0.5,-0.3,-0.1,0.1,0.3,0.5], "labelExpr": "(datum.value < 0 ? '-' : '') + '.' + format(abs(datum.value) * 100, '02d')", "tickSize": 6, "labelPadding": 11, "labelFontSize": 17, "title": "z-scores", "titleFontSize": 19.5, "titlePadding": 2}},
       "shape": {"field": "series", "type": "nominal", "scale": {"domain": ["Without correction", "Corrected for response styles"], "range": ["triangle-up", "circle"]}, "legend": null},
       "color": {"field": "series", "type": "nominal", "scale": {"domain": ["Without correction", "Corrected for response styles"], "range": ["#a0a0a0", "#000000"]}, "legend": null}
     }},
    {"transform": [{"filter": "datum.series == 'Without correction'"}, {"regression": "z", "on": "age", "method": "poly", "order": 2}],
     "mark": {"type": "line", "color": "#a0a0a0", "strokeWidth": 2, "strokeDash": [5, 3]},
     "encoding": {"x": {"field": "age", "type": "quantitative", "axis": null}, "y": {"field": "z", "type": "quantitative", "axis": null}}},
    {"transform": [{"filter": "datum.series == 'Corrected for response styles'"}, {"regression": "z", "on": "age", "method": "poly", "order": 2}],
     "mark": {"type": "line", "color": "#000000", "strokeWidth": 2},
     "encoding": {"x": {"field": "age", "type": "quantitative", "axis": null}, "y": {"field": "z", "type": "quantitative", "axis": null}}},
    {"mark": {"type": "point", "opacity": 0},
     "encoding": {
       "x": {"field": "age", "type": "quantitative", "axis": {"orient": "bottom", "values": [47.5,52.5,57.5,62.5,67.5,72.5,77.5,82.5,87.5,92.5], "tickSize": 12, "offset": -6, "labels": false, "domain": false, "title": null}},
       "y": {"field": "z", "type": "quantitative", "axis": null}
     }}
  ]
},
{
  "width": 245, "height": 348,
  "data": {"name": "pl"},
  "title": {"text": "Positive affect", "frame": "group", "anchor": "middle", "baseline": "alphabetic", "offset": -39, "fontSize": 20},
  "resolve": {"axis": {"x": "independent", "y": "independent"}},
  "layer": [
    {"mark": {"type": "point", "filled": true, "size": 64, "opacity": 1},
     "encoding": {
       "x": {"field": "age", "type": "quantitative", "scale": {"domain": [47.5, 92.5], "nice": false, "zero": false},
             "axis": {"orient": "bottom", "values": [50,55,60,65,70,75,80,85,90], "labelExpr": "datum.value == 90 ? '90+' : '' + datum.value", "ticks": false, "labelAngle": 270, "labelPadding": 15, "labelFontSize": 17, "title": "Years of age", "titleFontSize": 19.5, "titlePadding": 9}},
       "y": {"field": "z", "type": "quantitative", "scale": {"domain": [-0.5, 0.5], "nice": false, "zero": false},
             "axis": {"orient": "left", "values": [-0.5,-0.3,-0.1,0.1,0.3,0.5], "labelExpr": "(datum.value < 0 ? '-' : '') + '.' + format(abs(datum.value) * 100, '02d')", "tickSize": 6, "labelPadding": 11, "labelFontSize": 17, "title": "z-scores", "titleFontSize": 19.5, "titlePadding": 2}},
       "shape": {"field": "series", "type": "nominal", "scale": {"domain": ["Without correction", "Corrected for response styles"], "range": ["triangle-up", "circle"]},
                 "legend": {"orient": "none", "legendX": -68, "legendY": 436, "title": null, "labelFont": "Lato", "labelFontSize": 20.5, "labelColor": "#000", "symbolSize": 64, "padding": 2, "symbolOffset": 11, "labelOffset": 0, "rowPadding": 2, "strokeColor": "#888", "fillColor": "white", "labelLimit": 400, "symbolStrokeWidth": 0}},
       "color": {"field": "series", "type": "nominal", "scale": {"domain": ["Without correction", "Corrected for response styles"], "range": ["#a0a0a0", "#000000"]},
                 "legend": {"orient": "none", "legendX": -68, "legendY": 436, "title": null, "labelFont": "Lato", "labelFontSize": 20.5, "labelColor": "#000", "symbolSize": 64, "padding": 2, "symbolOffset": 11, "labelOffset": 0, "rowPadding": 2, "strokeColor": "#888", "fillColor": "white", "labelLimit": 400, "symbolStrokeWidth": 0}}
     }},
    {"transform": [{"filter": "datum.series == 'Without correction'"}, {"regression": "z", "on": "age", "method": "poly", "order": 2}],
     "mark": {"type": "line", "color": "#a0a0a0", "strokeWidth": 2, "strokeDash": [5, 3]},
     "encoding": {"x": {"field": "age", "type": "quantitative", "axis": null}, "y": {"field": "z", "type": "quantitative", "axis": null}}},
    {"transform": [{"filter": "datum.series == 'Corrected for response styles'"}, {"regression": "z", "on": "age", "method": "poly", "order": 2}],
     "mark": {"type": "line", "color": "#000000", "strokeWidth": 2},
     "encoding": {"x": {"field": "age", "type": "quantitative", "axis": null}, "y": {"field": "z", "type": "quantitative", "axis": null}}},
    {"mark": {"type": "point", "opacity": 0},
     "encoding": {
       "x": {"field": "age", "type": "quantitative", "axis": {"orient": "bottom", "values": [47.5,52.5,57.5,62.5,67.5,72.5,77.5,82.5,87.5,92.5], "tickSize": 12, "offset": -6, "labels": false, "domain": false, "title": null}},
       "y": {"field": "z", "type": "quantitative", "axis": null}
     }}
  ]
}
],
"bounds": "flush",
"spacing": 73,
"resolve": {"scale": {"color": "independent", "shape": "independent"}}
}
]
}
